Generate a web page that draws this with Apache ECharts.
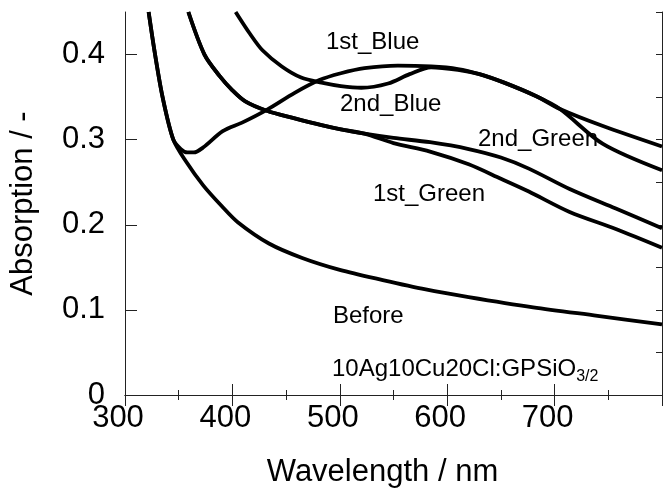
<!DOCTYPE html>
<html>
<head>
<meta charset="utf-8">
<script src="https://cdn.jsdelivr.net/npm/echarts@6/dist/echarts.min.js"></script>
<style>
  html, body { margin: 0; padding: 0; background: #fff; }
  #chart { width: 665px; height: 493px; }
</style>
</head>
<body>
<div id="chart"></div>
<script>
// wavelength (nm) / absorption pairs
const wlBefore = [322, 328, 335, 345, 357, 373, 390, 405, 434, 465, 500, 540, 580, 620, 680, 740, 800]
const absBefore = [0.45, 0.40, 0.35, 0.30, 0.274, 0.246, 0.222, 0.203, 0.178, 0.161, 0.147, 0.135, 0.124, 0.115, 0.103, 0.093, 0.083]

const wl1stBlue = [403, 416, 428, 446, 464, 483, 501, 520, 545, 565, 585, 610, 630, 653, 683, 705, 745, 800]
const abs1stBlue = [0.45, 0.425, 0.405, 0.386, 0.373, 0.367, 0.363, 0.361, 0.366, 0.377, 0.385, 0.382, 0.377, 0.367, 0.351, 0.336, 0.316, 0.292]

const wl2ndBlue = [322, 328, 335, 345, 352, 358, 364, 373, 391, 409, 432, 458, 481, 501, 523, 554, 585, 610, 630, 653, 683, 705, 745, 800]
const abs2ndBlue = [0.45, 0.40, 0.35, 0.30, 0.289, 0.285, 0.285, 0.291, 0.31, 0.32, 0.335, 0.355, 0.37, 0.378, 0.384, 0.387, 0.386, 0.383, 0.377, 0.367, 0.351, 0.336, 0.295, 0.264]

const wl1stGreen = [359, 374, 388, 400, 412, 432, 458, 483, 501, 523, 550, 584, 620, 650, 676, 714, 757, 800]
const abs1stGreen = [0.45, 0.40, 0.375, 0.358, 0.345, 0.334, 0.325, 0.317, 0.312, 0.307, 0.296, 0.286, 0.271, 0.254, 0.239, 0.215, 0.195, 0.173]

const wl2ndGreen = [359, 374, 388, 400, 412, 432, 458, 483, 501, 523, 550, 584, 620, 650, 676, 714, 757, 800]
const abs2ndGreen = [0.45, 0.40, 0.375, 0.358, 0.345, 0.334, 0.325, 0.317, 0.312, 0.307, 0.302, 0.297, 0.289, 0.279, 0.266, 0.242, 0.219, 0.196]

const xTicks = [300, 400, 500, 600, 700]
const yTicks = [0, 0.1, 0.2, 0.3, 0.4]

const FONT = "'Liberation Sans', Arial, sans-serif"
const zip = (xs, ys) => xs.map((x, i) => [x, ys[i]])

const chart = echarts.init(document.getElementById('chart'))

const curve = (name, xs, ys) => ({
  name, type: 'line', data: zip(xs, ys),
  smooth: 0.3, showSymbol: false, clip: true,
  lineStyle: { color: '#000', width: 3.8 },
})

const frame = { show: true, lineStyle: { color: '#222', width: 1 } }

chart.setOption({
  animation: false,
  grid: { left: 119, right: 1, top: 12, bottom: 94 },
  xAxis: [
    {
      type: 'value', min: 300, max: 800, interval: 100,
      name: 'Wavelength / nm', nameLocation: 'middle', nameGap: 62,
      nameTextStyle: { fontFamily: FONT, fontSize: 31, color: '#000', padding: [0, 22, 0, 0] },
      axisLine: frame,
      axisTick: { inside: true, length: 11, lineStyle: { color: '#222' } },
      minorTick: { show: true, splitNumber: 2, length: 5, lineStyle: { color: '#222' } },
      splitLine: { show: false },
      axisLabel: {
        fontFamily: FONT, fontSize: 31, color: '#000', margin: 8, padding: [0, 14, 0, 0],
        formatter: v => (xTicks.includes(v) ? String(v) : ''),
      },
    },
    {
      type: 'value', position: 'top', min: 300, max: 800, interval: 100,
      axisLine: frame,
      axisTick: { inside: true, length: 11, lineStyle: { color: '#222' } },
      minorTick: { show: true, splitNumber: 2, length: 5, lineStyle: { color: '#222' } },
      splitLine: { show: false }, axisLabel: { show: false },
    },
  ],
  yAxis: [
    {
      type: 'value', min: 0, max: 0.45, interval: 0.1,
      name: 'Absorption / -', nameLocation: 'middle', nameGap: 86,
      nameTextStyle: { fontFamily: FONT, fontSize: 31, color: '#000' },
      axisLine: frame,
      axisTick: { inside: true, length: 12, lineStyle: { color: '#222' } },
      splitLine: { show: false },
      axisLabel: {
        fontFamily: FONT, fontSize: 31, color: '#000', margin: 20, showMaxLabel: false,
        formatter: v => {
          const t = yTicks.find(k => Math.abs(k - v) < 1e-6)
          return t === undefined ? '' : (t === 0 ? '0' : t.toFixed(1))
        },
      },
    },
    {
      type: 'value', min: 0, max: 0.45, interval: 0.05,
      axisLine: { show: false },
      axisTick: { inside: true, length: 6, lineStyle: { color: '#222' } },
      splitLine: { show: false }, axisLabel: { show: false },
    },
    {
      type: 'value', position: 'right', min: 0, max: 0.45,
      axisLine: frame, axisTick: { show: false },
      splitLine: { show: false }, axisLabel: { show: false },
    },
  ],
  series: [
    curve('Before', wlBefore, absBefore),
    curve('1st_Blue', wl1stBlue, abs1stBlue),
    curve('2nd_Blue', wl2ndBlue, abs2ndBlue),
    curve('1st_Green', wl1stGreen, abs1stGreen),
    curve('2nd_Green', wl2ndGreen, abs2ndGreen),
  ],
  graphic: [
    { type: 'text', left: 326, top: 30, style: { text: '1st_Blue', font: `24px ${FONT}`, fill: '#000' } },
    { type: 'text', left: 340, top: 92, style: { text: '2nd_Blue', font: `24px ${FONT}`, fill: '#000' } },
    { type: 'text', left: 478, top: 127, style: { text: '2nd_Green', font: `24px ${FONT}`, fill: '#000' } },
    { type: 'text', left: 373, top: 182, style: { text: '1st_Green', font: `24px ${FONT}`, fill: '#000' } },
    { type: 'text', left: 333, top: 304, style: { text: 'Before', font: `24px ${FONT}`, fill: '#000' } },
    {
      type: 'text', left: 332, top: 357,
      style: {
        text: '{m|10Ag10Cu20Cl:GPSiO}{s|3/2}',
        rich: {
          m: { fontFamily: FONT, fontSize: 24, lineHeight: 32, fill: '#000', color: '#000' },
          s: { fontFamily: FONT, fontSize: 16, lineHeight: 16, verticalAlign: 'bottom', fill: '#000', color: '#000' },
        },
      },
    },
  ],
})
</script>
</body>
</html>
